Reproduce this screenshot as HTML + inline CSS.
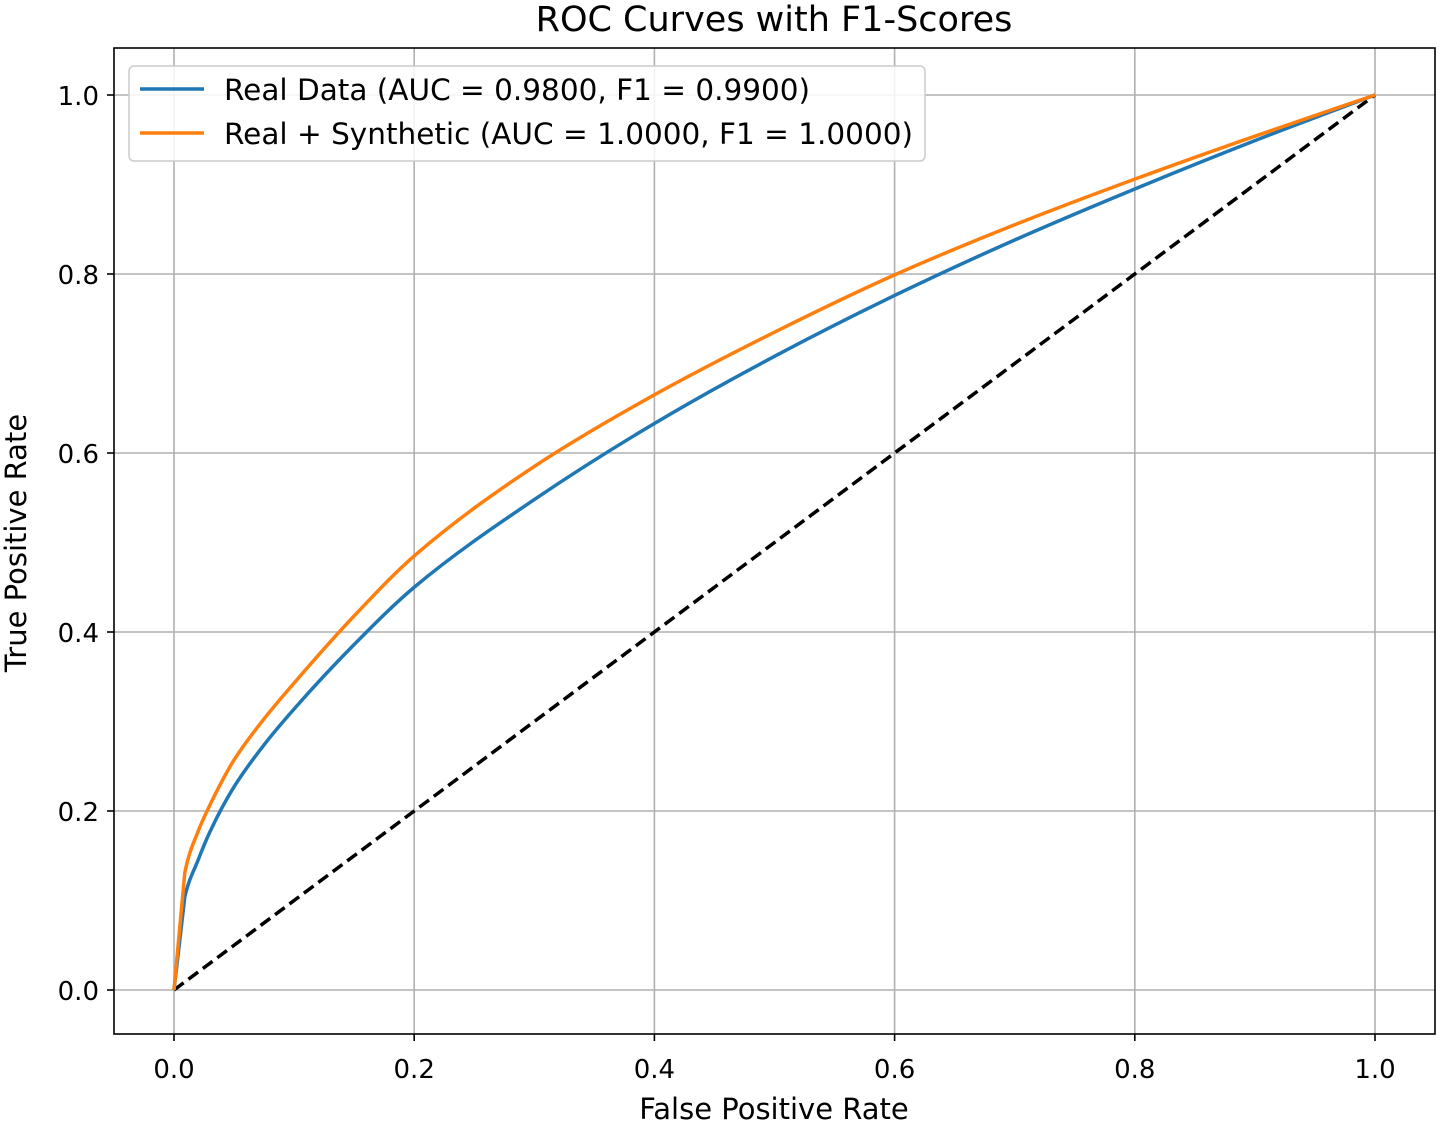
<!DOCTYPE html>
<html><head><meta charset="utf-8"><style>
body{margin:0;background:#fff}
svg{display:block;font-family:"DejaVu Sans","Liberation Sans",sans-serif}
</style></head><body>
<svg id="chart" width="1441" height="1124">
<text x="774" y="31" text-anchor="middle" font-size="35" fill="#000">ROC Curves with F1-Scores</text>
<g id="grid"></g>
<g id="ticks"></g>
<g id="series"></g>
<rect x="114" y="48" width="1321" height="986" fill="none" stroke="#000" stroke-width="1.6"/>
<text x="774" y="1119" text-anchor="middle" font-size="29">False Positive Rate</text>
<text transform="translate(26,543) rotate(-90)" text-anchor="middle" font-size="29">True Positive Rate</text>
<g>
<rect x="129" y="66" width="796" height="95" rx="5" fill="#fff" fill-opacity="0.85" stroke="#ccc" stroke-width="1.5"/>
<line x1="140" y1="89" x2="204" y2="89" stroke="#1f77b4" stroke-width="3.5"/>
<text x="224" y="100" font-size="29.5">Real Data (AUC = 0.9800, F1 = 0.9900)</text>
<line x1="140" y1="133" x2="204" y2="133" stroke="#ff7f0e" stroke-width="3.5"/>
<text x="224" y="144" font-size="29.5">Real + Synthetic (AUC = 1.0000, F1 = 1.0000)</text>
</g>
</svg>
<script>
const fpr = [0,0.009,0.02,0.03,0.05,0.075,0.1,0.15,0.2,0.3,0.4,0.5,0.6,0.7,0.8,0.9,1.0];
const tprReal = [0,0.104,0.145,0.177,0.227,0.274,0.314,0.386,0.45,0.548,0.633,0.708,0.776,0.838,0.895,0.949,1.0];
const tprSynth = [0,0.131,0.177,0.207,0.257,0.303,0.343,0.418,0.485,0.585,0.665,0.735,0.799,0.855,0.906,0.954,1.0];
const tickVals = [0,0.2,0.4,0.6,0.8,1.0];
const tickLabels = ["0.0","0.2","0.4","0.6","0.8","1.0"];
const NS="http://www.w3.org/2000/svg";
const X=v=>174+v*1201, Y=v=>990-v*895;
function mk(tag,attrs,parent){const e=document.createElementNS(NS,tag);for(const k in attrs)e.setAttribute(k,attrs[k]);parent.appendChild(e);return e;}
const grid=document.getElementById('grid'),ticks=document.getElementById('ticks'),series=document.getElementById('series');
tickVals.forEach((v,i)=>{
 let g=mk('line',{x1:X(v),x2:X(v),y1:48,y2:1034,stroke:'#b0b0b0','stroke-width':1.6},grid);
 
 
 g=mk('line',{x1:114,x2:1435,y1:Y(v),y2:Y(v),stroke:'#b0b0b0','stroke-width':1.6},grid);
 
 
 let t=mk('line',{x1:X(v),x2:X(v),y1:1034,y2:1041,stroke:'#000','stroke-width':1.6},ticks);
 
 
 t=mk('line',{x1:107,x2:114,y1:Y(v),y2:Y(v),stroke:'#000','stroke-width':1.6},ticks);
 
 
 let l=mk('text',{x:X(v),y:1078,'text-anchor':'middle','font-size':26},ticks);l.textContent=tickLabels[i];
 
 
 l=mk('text',{x:99,y:Y(v)+10,'text-anchor':'end','font-size':26},ticks);l.textContent=tickLabels[i];
 
 
});
function monoPath(xs,ys){
 const n=xs.length,h=[],s=[],m=new Array(n);
 for(let i=0;i<n-1;i++){h[i]=xs[i+1]-xs[i];s[i]=(ys[i+1]-ys[i])/h[i];}
 m[0]=s[0];m[n-1]=s[n-2];
 for(let i=1;i<n-1;i++){
  if(s[i-1]*s[i]<=0)m[i]=0;
  else{const w1=2*h[i]+h[i-1],w2=h[i]+2*h[i-1];m[i]=(w1+w2)/(w1/s[i-1]+w2/s[i]);}
 }
 let d='M'+X(xs[0])+','+Y(ys[0])+' L'+X(xs[1])+','+Y(ys[1]);
 for(let i=1;i<n-1;i++){
  const dx=h[i]/3;
  d+=' C'+X(xs[i]+dx)+','+Y(ys[i]+m[i]*dx)+' '+X(xs[i+1]-dx)+','+Y(ys[i+1]-m[i+1]*dx)+' '+X(xs[i+1])+','+Y(ys[i+1]);
 }
 return d;
}
function line(ys,color,name){
 const p=mk('path',{d:monoPath(fpr,ys),fill:'none',stroke:color,'stroke-width':3.5,'stroke-linejoin':'round'},series);
 
 
}
const d=mk('line',{x1:X(0),y1:Y(0),x2:X(1),y2:Y(1),stroke:'#000','stroke-width':3.5,'stroke-dasharray':'12,6'},series);


line(tprReal,'#1f77b4','real-data-curve');
line(tprSynth,'#ff7f0e','real-synthetic-curve');
</script>
</body></html>
